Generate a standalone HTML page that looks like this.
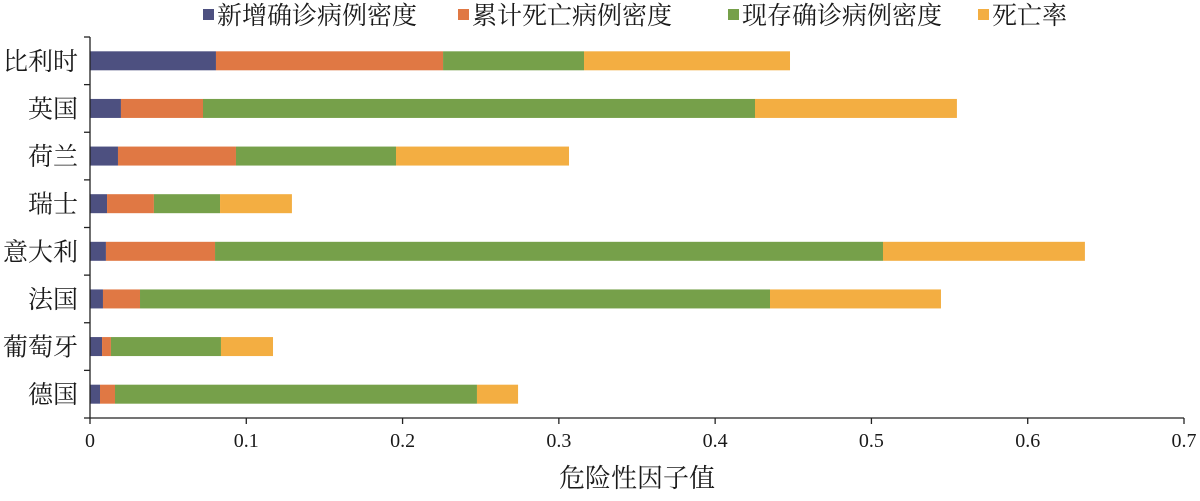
<!DOCTYPE html>
<html><head><meta charset="utf-8"><style>
body{margin:0;background:#fff}
svg text{font-family:"Liberation Serif","Noto Serif CJK SC",serif;fill:#1a1a1a}
</style></head><body>
<svg id="chart" width="1200" height="496" xmlns="http://www.w3.org/2000/svg"></svg>
<script>
const categories=["比利时","英国","荷兰","瑞士","意大利","法国","葡萄牙","德国"];
const seriesNames=["新增确诊病例密度","累计死亡病例密度","现存确诊病例密度","死亡率"];
const newCases=[0.0806,0.0198,0.0179,0.0109,0.0102,0.0083,0.0077,0.0064];
const deaths=[0.1453,0.0525,0.0755,0.0300,0.0698,0.0237,0.0057,0.0096];
const active=[0.0902,0.3532,0.1024,0.0423,0.4274,0.4031,0.0704,0.2316];
const deathRate=[0.1318,0.1292,0.1107,0.0460,0.1292,0.1094,0.0333,0.0263];
const tickLabels=["0","0.1","0.2","0.3","0.4","0.5","0.6","0.7"];
const colors=["#4d5080","#e07844","#76a04a","#f3ae42"];
const NS="http://www.w3.org/2000/svg";
const svg=document.getElementById('chart');
const x0=90,x1=1184,xmax=0.7,yTop=37,yBot=418;
const band=(yBot-yTop)/categories.length;
const xs=v=>x0+v/xmax*(x1-x0);
function mk(t,a,txt){const e=document.createElementNS(NS,t);for(const k in a)e.setAttribute(k,a[k]);if(txt!==undefined)e.textContent=txt;svg.appendChild(e);return e;}
const all=[newCases,deaths,active,deathRate];
categories.forEach((c,i)=>{
  const cy=yTop+band*(i+0.5);let acc=0;
  all.forEach((s,j)=>{
    const r=mk('rect',{x:xs(acc),y:cy-9.5,width:xs(acc+s[i])-xs(acc),height:19,fill:colors[j]});
    
    
    acc+=s[i];
  });
  const t=mk('text',{x:78,y:cy+9,'text-anchor':'end','font-size':25},c);
  
  
});
const ax=mk('line',{x1:x0,y1:yTop,x2:x0,y2:yBot,stroke:'#222','stroke-width':1.3});


for(let i=0;i<=categories.length;i++){const y=yTop+band*i;mk('line',{x1:x0-6,y1:y,x2:x0,y2:y,stroke:'#222','stroke-width':1.3});}
const bx=mk('line',{x1:x0,y1:yBot,x2:x1,y2:yBot,stroke:'#222','stroke-width':1.3});


tickLabels.forEach((l,i)=>{
  const v=i*0.1;const x=xs(v);
  mk('line',{x1:x,y1:yBot,x2:x,y2:yBot+6,stroke:'#222','stroke-width':1.3});
  const t=mk('text',{x:x,y:447,'text-anchor':'middle','font-size':20},l);
  
  
});
const xt=mk('text',{x:637,y:487,'text-anchor':'middle','font-size':26},'危险性因子值');


const legX=[203,458,728,978];
seriesNames.forEach((n,j)=>{
  const r=mk('rect',{x:legX[j],y:9,width:11,height:11,fill:colors[j]});
  
  
  const t=mk('text',{x:legX[j]+14,y:24,'font-size':25},n);
  
  
});
</script>
</body></html>
